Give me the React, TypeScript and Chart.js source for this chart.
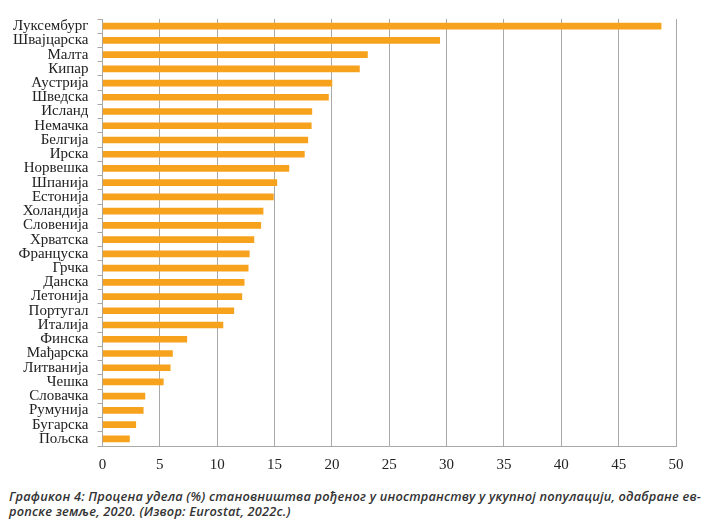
import React, { useEffect, useRef } from "react";
import { Chart, registerables } from "chart.js";

Chart.register(...registerables);

const countries = [
  "Луксембург", "Швајцарска", "Малта", "Кипар", "Аустрија", "Шведска",
  "Исланд", "Немачка", "Белгија", "Ирска", "Норвешка", "Шпанија",
  "Естонија", "Холандија", "Словенија", "Хрватска", "Француска", "Грчка",
  "Данска", "Летонија", "Португал", "Италија", "Финска", "Мађарска",
  "Литванија", "Чешка", "Словачка", "Румунија", "Бугарска", "Пољска",
];

const shares = [
  48.7, 29.4, 23.1, 22.4, 20.0, 19.7,
  18.25, 18.2, 17.9, 17.6, 16.25, 15.2,
  14.9, 14.0, 13.8, 13.2, 12.8, 12.7,
  12.35, 12.15, 11.45, 10.5, 7.35, 6.1,
  5.9, 5.3, 3.7, 3.55, 2.9, 2.35,
];

const xMin = 0;
const xMax = 50;
const xStep = 5;

const captionLine1 =
  "Графикон 4: Процена удела (%) становништва рођеног у иностранству у укупној популацији, одабране ев-";
const captionLine2 = "ропске земље, 2020. (Извор: Eurostat, 2022c.)";

export default function App() {
  const canvasRef = useRef<HTMLCanvasElement | null>(null);

  useEffect(() => {
    if (!canvasRef.current) return;
    const chart = new Chart(canvasRef.current, {
      type: "bar",
      data: {
        labels: countries,
        datasets: [
          {
            data: shares,
            backgroundColor: "#F7A21C",
            borderWidth: 0,
            barThickness: 6,
          },
        ],
      },
      options: {
        indexAxis: "y",
        animation: false,
        responsive: true,
        maintainAspectRatio: false,
        layout: { padding: { top: 11, right: 35, bottom: 0, left: 0 } },
        plugins: {
          legend: { display: false },
          tooltip: { enabled: false },
          title: { display: false },
        },
        scales: {
          x: {
            min: xMin,
            max: xMax,
            ticks: {
              stepSize: xStep,
              padding: 10,
              color: "#222",
              font: { family: "'Liberation Serif', 'DejaVu Serif', serif", size: 15 },
            },
            grid: {
              color: "#A8A8A8",
              lineWidth: 1,
              drawTicks: false,
            },
            border: { display: true, color: "#A8A8A8", width: 1 },
            afterFit: (scale: any) => {
              scale.height = 32;
            },
          },
          y: {
            offset: true,
            ticks: {
              padding: 9,
              color: "#222",
              autoSkip: false,
              font: { family: "'Liberation Serif', 'DejaVu Serif', serif", size: 15 },
            },
            grid: {
              offset: true,
              drawOnChartArea: false,
              drawTicks: true,
              tickLength: 5,
              color: "#A8A8A8",
            },
            border: { display: true, color: "#A8A8A8", width: 1 },
            afterFit: (scale: any) => {
              scale.width = 94.5;
              scale.paddingTop = 0;
              scale.paddingBottom = 0;
            },
          },
        },
      },
    });
    return () => chart.destroy();
  }, []);

  return (
    <div style={{ width: 703 }}>
      <div style={{ position: "relative", width: 703, height: 470 }}>
        <canvas ref={canvasRef} />
      </div>
      <div
        style={{
          marginTop: 11,
          marginLeft: 0,
          paddingLeft: 1,
          fontFamily: "'Open Sans', 'Noto Sans', sans-serif",
          fontStyle: "italic",
          fontWeight: 600,
          fontSize: 12.8,
          letterSpacing: "0.2px",
          lineHeight: "15px",
          color: "#333",
          whiteSpace: "nowrap",
        }}
      >
        <div>{captionLine1}</div>
        <div>{captionLine2}</div>
      </div>
    </div>
  );
}
